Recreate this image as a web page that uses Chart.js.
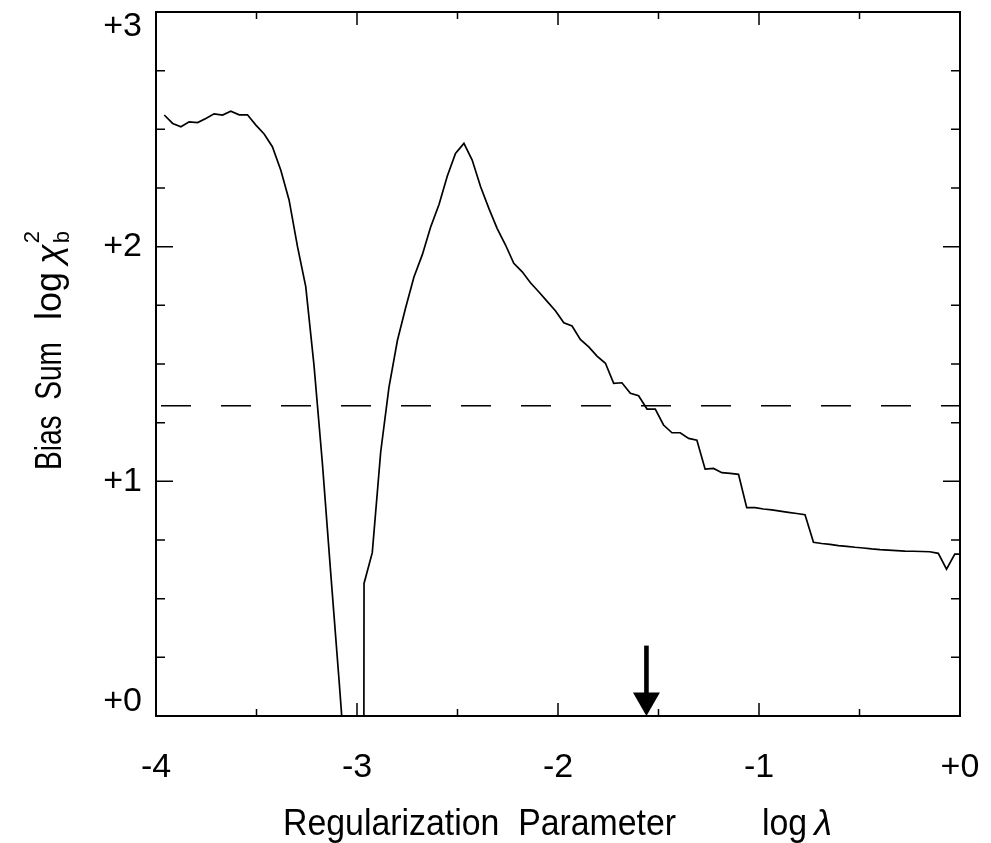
<!DOCTYPE html>
<html>
<head>
<meta charset="utf-8">
<script src="https://cdn.jsdelivr.net/npm/chart.js@4.4.0/dist/chart.umd.min.js"></script>
<style>
html,body{margin:0;padding:0;background:#fff;}
#wrap{width:991px;height:843px;}
canvas{display:block;}
</style>
</head>
<body>
<div id="wrap"><canvas id="c" width="991" height="843"></canvas></div>
<script>
// ---- data ----
const logLambda = [
 -3.959,-3.917,-3.876,-3.835,-3.793,-3.752,-3.711,-3.669,-3.628,-3.586,
 -3.545,-3.503,-3.462,-3.421,-3.379,-3.338,-3.296,-3.255,-3.214,-3.172,
 -3.131,-3.089,-3.048,-3.007,-2.965,-2.924,-2.882,-2.841,-2.799,-2.758,
 -2.717,-2.675,-2.634,-2.592,-2.551,-2.510,-2.468,-2.427,-2.385,-2.344,
 -2.303,-2.261,-2.220,-2.178,-2.137,-2.096,-2.054,-2.013,-1.971,-1.930,
 -1.889,-1.847,-1.806,-1.764,-1.723,-1.682,-1.640,-1.599,-1.557,-1.516,
 -1.475,-1.433,-1.392,-1.350,-1.309,-1.268,-1.226,-1.185,-1.143,-1.102,
 -1.061,-1.019,-0.978,-0.936,-0.895,-0.854,-0.812,-0.771,-0.729,-0.688,
 -0.647,-0.605,-0.564,-0.522,-0.481,-0.440,-0.398,-0.357,-0.315,-0.274,
 -0.233,-0.191,-0.150,-0.108,-0.067,-0.026,0.016
];
const logBiasSum = [
 2.561,2.525,2.511,2.532,2.529,2.546,2.566,2.561,2.577,2.562,
 2.562,2.518,2.480,2.426,2.326,2.199,2.000,1.830,1.495,1.075,
 0.612,0.149,-0.320,-30.0,0.565,0.696,1.126,1.400,1.600,1.740,
 1.870,1.966,2.083,2.180,2.300,2.397,2.440,2.369,2.255,2.163,
 2.078,2.007,1.929,1.893,1.846,1.808,1.767,1.727,1.676,1.662,
 1.605,1.573,1.534,1.503,1.418,1.420,1.375,1.365,1.308,1.308,
 1.240,1.207,1.207,1.183,1.175,1.052,1.055,1.037,1.034,1.030,
 0.888,0.888,0.882,0.878,0.873,0.868,0.863,0.858,0.740,0.735,
 0.731,0.726,0.723,0.719,0.716,0.712,0.709,0.707,0.705,0.703,
 0.702,0.701,0.700,0.693,0.626,0.690,0.690
];
const thresholdLevel = 1.322;
const arrowLogLambda = -1.56;
const arrowTopValue = 0.30;
const arrowHeadBaseValue = 0.10;

const xTickValues = [-4,-3,-2,-1,0];
const xTickLabels = ['-4','-3','-2','-1','+0'];
const xMinorTicks = [-3.5,-2.5,-1.5,-0.5];
const yTickValues = [0,1,2,3];
const yTickLabels = ['+0','+1','+2','+3'];
const yMinorTicks = [0.25,0.5,0.75,1.25,1.5,1.75,2.25,2.5,2.75];

const xTitleMain = 'Regularization  Parameter';
const xTitleLog = 'log';
const xTitleSymbol = 'λ';
const yTitleMain = 'Bias  Sum';
const yTitleLog = 'log';
const yTitleSymbol = 'χ';
const yTitleSup = '2';
const yTitleSub = 'b';

const FONT = '"Liberation Sans", Arial, Helvetica, sans-serif';

const framePlugin = {
  id: 'frame',
  afterDatasetsDraw(chart) {
    const {ctx, chartArea: a, scales: {x, y}} = chart;
    ctx.save();
    ctx.strokeStyle = '#000';
    ctx.lineWidth = 2;
    ctx.strokeRect(a.left, a.top, a.right - a.left, a.bottom - a.top);
    ctx.lineWidth = 1.5;
    ctx.beginPath();
    const seg = (x1, y1, x2, y2) => { ctx.moveTo(x1, y1); ctx.lineTo(x2, y2); };
    xTickValues.forEach(v => { const p = x.getPixelForValue(v); seg(p, a.bottom, p, a.bottom - 13); seg(p, a.top, p, a.top + 13); });
    xMinorTicks.forEach(v => { const p = x.getPixelForValue(v); seg(p, a.bottom, p, a.bottom - 7); seg(p, a.top, p, a.top + 7); });
    yTickValues.forEach(v => { const p = y.getPixelForValue(v); seg(a.left, p, a.left + 17, p); seg(a.right, p, a.right - 17, p); });
    yMinorTicks.forEach(v => { const p = y.getPixelForValue(v); seg(a.left, p, a.left + 9, p); seg(a.right, p, a.right - 9, p); });
    ctx.stroke();

    // arrow marking the chosen parameter
    const ax = x.getPixelForValue(arrowLogLambda);
    const yTop = y.getPixelForValue(arrowTopValue);
    const yBase = y.getPixelForValue(arrowHeadBaseValue);
    const yTip = y.getPixelForValue(0);
    ctx.fillStyle = '#000';
    ctx.fillRect(ax - 2.3, yTop, 4.6, yBase - yTop + 1);
    ctx.beginPath();
    ctx.moveTo(ax - 13.5, yBase);
    ctx.lineTo(ax + 13.5, yBase);
    ctx.lineTo(ax, yTip);
    ctx.closePath();
    ctx.fill();
    ctx.restore();
  },
  afterDraw(chart) {
    const {ctx, chartArea: a} = chart;
    // x title
    ctx.save();
    ctx.fillStyle = '#000';
    ctx.textBaseline = 'alphabetic';
    ctx.textAlign = 'left';
    const xb = 835;
    ctx.font = '36px ' + FONT;
    ctx.save();
    ctx.translate(a.left + 127, xb);
    ctx.scale(0.94, 1);
    ctx.fillText(xTitleMain, 0, 0);
    ctx.restore();
    ctx.save();
    ctx.translate(a.left + 606, xb);
    ctx.scale(0.94, 1);
    ctx.fillText(xTitleLog, 0, 0);
    const lw = ctx.measureText(xTitleLog).width * 0.94;
    ctx.restore();
    ctx.font = 'italic 36px ' + FONT;
    ctx.fillText(xTitleSymbol, a.left + 606 + lw + 7, xb);
    ctx.restore();

    // y title (rotated, condensed like the original lettering)
    ctx.save();
    ctx.fillStyle = '#000';
    ctx.textBaseline = 'alphabetic';
    ctx.textAlign = 'left';
    ctx.translate(61, 470);
    ctx.rotate(-Math.PI / 2);
    ctx.font = '36px ' + FONT;
    ctx.save();
    ctx.scale(0.78, 1);
    ctx.fillText(yTitleMain, 0, 0);
    ctx.restore();
    const logStart = 150;
    ctx.fillText(yTitleLog, logStart, 0);
    const lw2 = ctx.measureText(yTitleLog).width;
    ctx.font = 'italic 36px ' + FONT;
    const cx = logStart + lw2 + 8;
    ctx.fillText(yTitleSymbol, cx, 0);
    const cw = ctx.measureText(yTitleSymbol).width;
    ctx.font = '22px ' + FONT;
    ctx.fillText(yTitleSup, cx + cw + 1, -22);
    ctx.fillText(yTitleSub, cx + cw + 1, 8);
    ctx.restore();
  }
};

const points = logLambda.map((v, i) => ({x: v, y: logBiasSum[i]}));

new Chart(document.getElementById('c').getContext('2d'), {
  type: 'line',
  data: {
    datasets: [
      { data: points, borderColor: '#000', borderWidth: 1.7, pointRadius: 0, tension: 0, fill: false },
      { data: [{x: -4, y: thresholdLevel}, {x: 0, y: thresholdLevel}], borderColor: '#000', borderWidth: 1.5,
        borderDash: [30, 30], borderDashOffset: 55, pointRadius: 0, fill: false }
    ]
  },
  options: {
    responsive: false,
    animation: false,
    devicePixelRatio: 1,
    layout: { padding: { top: 12, right: 31, left: 0, bottom: 0 } },
    plugins: { legend: { display: false }, tooltip: { enabled: false } },
    scales: {
      x: {
        type: 'linear', min: -4, max: 0,
        grid: { display: false, drawTicks: false },
        border: { display: false },
        ticks: {
          stepSize: 1, autoSkip: false, maxRotation: 0, padding: 31, color: '#000',
          font: { family: FONT, size: 34 },
          callback: (v) => { const i = xTickValues.indexOf(v); return i >= 0 ? xTickLabels[i] : ''; }
        },
        afterFit: (s) => { s.height = 127; s.paddingLeft = 0; s.paddingRight = 0; }
      },
      y: {
        type: 'linear', min: 0, max: 3,
        grid: { display: false, drawTicks: false },
        border: { display: false },
        ticks: {
          stepSize: 1, autoSkip: false, padding: 14, color: '#000',
          font: { family: FONT, size: 34, lineHeight: 0.84 },
          callback: (v) => {
            const i = yTickValues.indexOf(v);
            if (i < 0) return '';
            if (v === 3) return ['', yTickLabels[i]];
            if (v === 0) return [yTickLabels[i], ''];
            return yTickLabels[i];
          }
        },
        afterFit: (s) => { s.width = 156; s.paddingTop = 0; s.paddingBottom = 0; }
      }
    }
  },
  plugins: [framePlugin]
});
</script>
</body>
</html>
